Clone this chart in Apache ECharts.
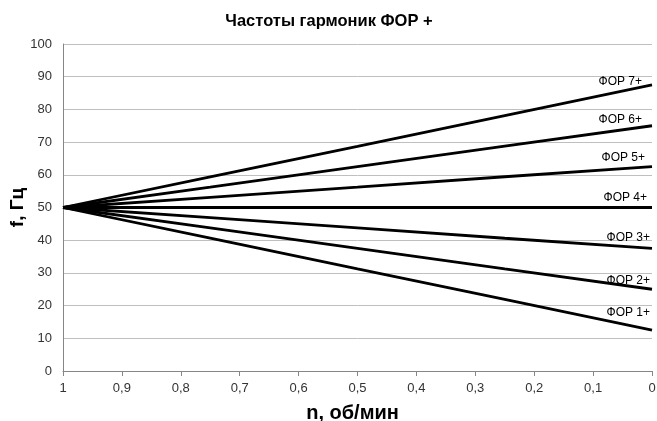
<!DOCTYPE html>
<html><head><meta charset="utf-8">
<script src="https://cdn.jsdelivr.net/npm/echarts@6/dist/echarts.min.js"></script>
<style>html,body{margin:0;padding:0;background:#fff}#c{width:657px;height:421px}</style>
</head><body><div id="c"></div>
<script>
const nValues = [1, 0.75, 0.5, 0.25, 0];
const seriesNames = ['ФОР 7+', 'ФОР 6+', 'ФОР 5+', 'ФОР 4+', 'ФОР 3+', 'ФОР 2+', 'ФОР 1+'];
const f7 = [50, 59.4, 68.7, 78.1, 87.5];
const f6 = [50, 56.2, 62.5, 68.8, 75];
const f5 = [50, 53.1, 56.2, 59.4, 62.5];
const f4 = [50, 50, 50, 50, 50];
const f3 = [50, 46.9, 43.8, 40.6, 37.5];
const f2 = [50, 43.8, 37.5, 31.2, 25];
const f1 = [50, 40.6, 31.2, 21.9, 12.5];
const yTicks = [0, 10, 20, 30, 40, 50, 60, 70, 80, 90, 100];
const xTicks = ['1', '0,9', '0,8', '0,7', '0,6', '0,5', '0,4', '0,3', '0,2', '0,1', '0'];

const allF = [f7, f6, f5, f4, f3, f2, f1];
const labelDx = [-2, -2, 1, 3, 6, 6, 6];
const labelDy = [3, 0, -3, -4, -5, -3, -11];

const chart = echarts.init(document.getElementById('c'), null, {renderer: 'canvas'});
const series = allF.map((arr, i) => ({
  name: seriesNames[i],
  type: 'line',
  data: nValues.map((n, j) => [n, arr[j]]),
  showSymbol: false,
  symbol: 'none',
  lineStyle: {color: '#000', width: 2.8},
  silent: true,
  endLabel: {
    show: true,
    formatter: seriesNames[i],
    color: '#000',
    fontFamily: 'Liberation Sans',
    fontSize: 12,
    align: 'right',
    verticalAlign: 'bottom',
    offset: [labelDx[i], labelDy[i]]
  }
}));

chart.setOption({
  animation: false,
  title: {
    text: 'Частоты гармоник ФОР +',
    left: 324, top: 8, textAlign: 'center',
    textStyle: {fontFamily: 'Liberation Sans', fontWeight: 'bold', fontSize: 16.5, color: '#000'}
  },
  grid: {left: 63, right: 5, top: 44, bottom: 50, containLabel: false, outerBoundsMode: 'none'},
  xAxis: {
    type: 'value', min: 0, max: 1, interval: 0.1, inverse: true,
    name: 'n, об/мин', nameLocation: 'middle', nameGap: 32,
    nameTextStyle: {fontFamily: 'Liberation Sans', fontWeight: 'bold', fontSize: 20, color: '#000', padding: [0, 10, 0, 0]},
    axisLine: {show: true, onZero: false, lineStyle: {color: '#868686', width: 1}},
    axisTick: {show: true, length: 5, lineStyle: {color: '#868686'}},
    splitLine: {show: false},
    axisLabel: {
      fontFamily: 'Liberation Sans', fontSize: 13, color: '#333', margin: 11,
      formatter: v => xTicks[Math.round((1 - v) * 10)]
    }
  },
  yAxis: {
    type: 'value', min: 0, max: 100, interval: 10,
    name: 'f, Гц', nameLocation: 'middle', nameGap: 36, nameRotate: 90, nameMoveOverlap: false,
    nameTextStyle: {fontFamily: 'Liberation Sans', fontWeight: 'bold', fontSize: 19, color: '#000'},
    axisLine: {show: true, onZero: false, lineStyle: {color: '#868686', width: 1}},
    axisTick: {show: false},
    splitLine: {show: true, lineStyle: {color: '#bfbfbf', width: 1}},
    axisLabel: {
      fontFamily: 'Liberation Sans', fontSize: 13, color: '#333', margin: 11,
      formatter: v => String(yTicks[Math.round(v / 10)])
    }
  },
  series: series
});
</script></body></html>
